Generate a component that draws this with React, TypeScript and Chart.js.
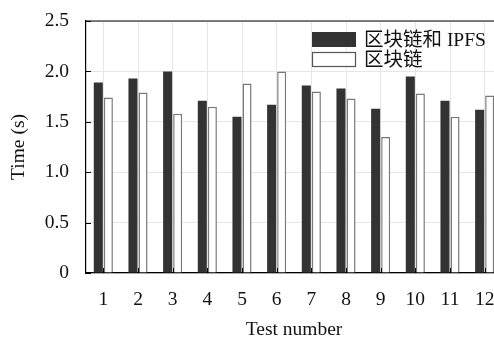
import React, { useEffect, useRef } from "react";
import { Chart, registerables } from "chart.js";

Chart.register(...registerables);

const categories = ["1", "2", "3", "4", "5", "6", "7", "8", "9", "10", "11", "12"];
const ipfsSeries = [1.89, 1.93, 2.0, 1.71, 1.55, 1.67, 1.86, 1.83, 1.63, 1.95, 1.71, 1.62];
const chainSeries = [1.74, 1.79, 1.58, 1.65, 1.88, 2.0, 1.8, 1.73, 1.35, 1.78, 1.55, 1.76];
const seriesLabels = ["区块链和 IPFS", "区块链"];
const yMin = 0;
const yMax = 2.5;
const yStep = 0.5;
const xTitle = "Test number";
const yTitle = "Time (s)";

const FONT_FAMILY = '"Liberation Serif", "Times New Roman", "Noto Sans CJK SC", serif';
const FONT_SIZE = 19.5;

const framePlugin = {
  id: "frameAndTicks",
  afterDatasetsDraw(chart: any) {
    const { ctx, chartArea, scales } = chart;
    ctx.save();
    ctx.strokeStyle = "#000";
    ctx.lineWidth = 1.2;
    ctx.beginPath();
    ctx.moveTo(chartArea.left, chartArea.top);
    ctx.lineTo(chartArea.right, chartArea.top);
    ctx.stroke();
    ctx.lineWidth = 1;
    scales.y.ticks.forEach((t: any) => {
      const y = Math.round(scales.y.getPixelForValue(t.value)) + 0.5;
      ctx.beginPath();
      ctx.moveTo(chartArea.left, y);
      ctx.lineTo(chartArea.left + 5, y);
      ctx.stroke();
    });
    categories.forEach((_c, i) => {
      const x = Math.round(scales.x.getPixelForValue(i)) + 0.5;
      ctx.beginPath();
      ctx.moveTo(x, chartArea.bottom);
      ctx.lineTo(x, chartArea.bottom - 5);
      ctx.stroke();
    });
    ctx.restore();
  },
  afterDraw(chart: any) {
    const { ctx, chartArea } = chart;
    ctx.save();
    const boxX = chartArea.right - 190;
    const boxW = 44;
    const boxH = 15;
    chart.data.datasets.forEach((ds: any, i: number) => {
      const y = chartArea.top + 11 + i * 20;
      ctx.fillStyle = ds.backgroundColor;
      ctx.fillRect(boxX, y, boxW, boxH);
      if (ds.borderWidth) {
        ctx.strokeStyle = "#555";
        ctx.lineWidth = 1.2;
        ctx.strokeRect(boxX + 0.5, y + 0.5, boxW - 1, boxH - 1);
      }
      ctx.fillStyle = "#111";
      ctx.font = `${FONT_SIZE}px ${FONT_FAMILY}`;
      ctx.textBaseline = "middle";
      ctx.textAlign = "left";
      ctx.fillText(ds.label, boxX + 52, y + boxH / 2 + 1);
    });
    ctx.restore();
  },
};

export default function App() {
  const ref = useRef<HTMLCanvasElement | null>(null);
  useEffect(() => {
    if (!ref.current) return;
    const chart = new Chart(ref.current, {
      type: "bar",
      data: {
        labels: categories,
        datasets: [
          {
            label: seriesLabels[0],
            data: ipfsSeries,
            backgroundColor: "#333333",
            borderWidth: 0,
            barPercentage: 0.9,
            categoryPercentage: 0.58,
          },
          {
            label: seriesLabels[1],
            data: chainSeries,
            backgroundColor: "#ffffff",
            borderColor: "#7a7a7a",
            borderWidth: 1.5,
            barPercentage: 0.9,
            categoryPercentage: 0.58,
          },
        ],
      },
      options: {
        animation: false,
        responsive: false,
        devicePixelRatio: 1,
        layout: { padding: { top: 21, right: 8, left: 0, bottom: 0 } },
        plugins: {
          legend: { display: false },
          tooltip: { enabled: false },
        },
        scales: {
          x: {
            offset: true,
            grid: { offset: false, color: "#e6e6e6", lineWidth: 1, drawTicks: false },
            border: { display: true, color: "#000", width: 1.2 },
            ticks: {
              color: "#111",
              padding: 15,
              font: { family: FONT_FAMILY, size: FONT_SIZE },
              maxRotation: 0,
              autoSkip: false,
            },
            title: {
              display: true,
              text: xTitle,
              color: "#111",
              font: { family: FONT_FAMILY, size: FONT_SIZE },
              padding: { top: 0, bottom: 3 },
            },
            afterFit: (scale: any) => {
              scale.height = 72;
            },
          },
          y: {
            min: yMin,
            max: yMax,
            grid: { color: "#e6e6e6", lineWidth: 1, drawTicks: false },
            border: { display: true, color: "#000", width: 1.2 },
            ticks: {
              stepSize: yStep,
              color: "#111",
              padding: 17,
              font: { family: FONT_FAMILY, size: FONT_SIZE },
              callback: (v: any) => (Number(v) === 0 ? "0" : Number(v).toFixed(1)),
            },
            title: {
              display: true,
              text: yTitle,
              color: "#111",
              font: { family: FONT_FAMILY, size: FONT_SIZE },
              padding: { top: 7, bottom: 0 },
            },
            afterFit: (scale: any) => {
              scale.width = 86;
              scale.paddingTop = 0;
              scale.paddingBottom = 0;
            },
          },
        },
      },
      plugins: [framePlugin],
    });
    return () => chart.destroy();
  }, []);
  return (
    <div
      style={{
        position: "fixed",
        left: 0,
        top: 0,
        width: 494,
        height: 338,
        overflow: "hidden",
        background: "#fff",
      }}
    >
      <canvas ref={ref} width={510} height={345} style={{ display: "block" }} />
    </div>
  );
}
